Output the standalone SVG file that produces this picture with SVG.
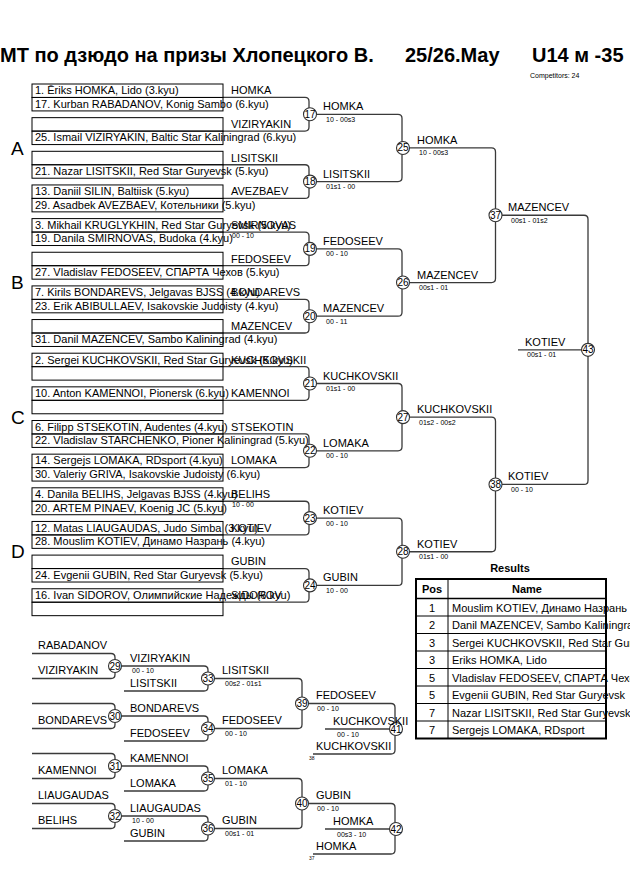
<svg xmlns="http://www.w3.org/2000/svg" width="630" height="891" viewBox="0 0 630 891">
<style>
text{font-family:"Liberation Sans",Arial,sans-serif;fill:#000}
.bx{fill:none;stroke:#000;stroke-width:1}
.ln{fill:none;stroke:#3a3a3a;stroke-width:1.3}
.c{fill:#fff;stroke:#333;stroke-width:1.1}
.t{font-size:11px}
.s{font-size:7px}
.n{font-size:10px;text-anchor:middle}
.tiny{font-size:5px}
.pool{font-size:19px}
.ttl{font-size:20px;font-weight:bold}
.b{font-weight:bold}
.mid{text-anchor:middle}
</style>
<rect width="630" height="891" fill="#fff"/>
<g id="title">
<text class="ttl" x="0" y="62">МТ по дзюдо на призы Хлопецкого В.</text>
<text class="ttl" x="405" y="62">25/26.May</text>
<text class="ttl" x="532" y="62">U14 м -35</text>
<text class="s" x="530" y="78">Competitors: 24</text>
</g>
<g id="pools">
<text class="pool" x="11" y="155">A</text>
<text class="pool" x="11" y="289">B</text>
<text class="pool" x="11" y="424">C</text>
<text class="pool" x="11" y="558">D</text>
</g>
<g id="connectors">
<path class="ln" d="M223 97.46H305Q309 97.46 309 101.46V127.11Q309 131.11 305 131.11H223"/>
<path class="ln" d="M223 164.76H305Q309 164.76 309 168.76V194.41Q309 198.41 305 198.41H223"/>
<path class="ln" d="M223 232.06H305Q309 232.06 309 236.06V261.71Q309 265.71 305 265.71H223"/>
<path class="ln" d="M223 299.36H305Q309 299.36 309 303.36V329.01Q309 333.01 305 333.01H223"/>
<path class="ln" d="M223 366.66H305Q309 366.66 309 370.66V396.31Q309 400.31 305 400.31H223"/>
<path class="ln" d="M223 433.96H305Q309 433.96 309 437.96V463.61Q309 467.61 305 467.61H223"/>
<path class="ln" d="M223 501.26H305Q309 501.26 309 505.26V530.91Q309 534.91 305 534.91H223"/>
<path class="ln" d="M223 568.56H305Q309 568.56 309 572.56V598.21Q309 602.21 305 602.21H223"/>
<path class="ln" d="M310 114.29H398Q402 114.29 402 118.29V177.59Q402 181.59 398 181.59H310"/>
<path class="ln" d="M310 248.89H398Q402 248.89 402 252.89V312.19Q402 316.19 398 316.19H310"/>
<path class="ln" d="M310 383.49H398Q402 383.49 402 387.49V446.79Q402 450.79 398 450.79H310"/>
<path class="ln" d="M310 518.09H398Q402 518.09 402 522.09V581.39Q402 585.39 398 585.39H310"/>
<path class="ln" d="M403 147.94H491.5Q495.5 147.94 495.5 151.94V278.54Q495.5 282.54 491.5 282.54H403"/>
<path class="ln" d="M403 417.14H491.5Q495.5 417.14 495.5 421.14V547.74Q495.5 551.74 491.5 551.74H403"/>
<path class="ln" d="M495.5 215.24H584Q588 215.24 588 219.24V480.44Q588 484.44 584 484.44H495.5"/>
<path class="ln" d="M518 349.84H588"/>
<path class="ln" d="M32 653.5H111Q115 653.5 115 657.5V674.5Q115 678.5 111 678.5H32"/>
<path class="ln" d="M32 703.5H111Q115 703.5 115 707.5V724.5Q115 728.5 111 728.5H32"/>
<path class="ln" d="M32 753.5H111Q115 753.5 115 757.5V774.5Q115 778.5 111 778.5H32"/>
<path class="ln" d="M32 803.5H111Q115 803.5 115 807.5V824.5Q115 828.5 111 828.5H32"/>
<path class="ln" d="M115 666H204Q208 666 208 670V687Q208 691 204 691H124"/>
<path class="ln" d="M115 716H204Q208 716 208 720V737Q208 741 204 741H124"/>
<path class="ln" d="M115 766H204Q208 766 208 770V787Q208 791 204 791H124"/>
<path class="ln" d="M115 816H204Q208 816 208 820V837Q208 841 204 841H124"/>
<path class="ln" d="M208 678.5H298Q302 678.5 302 682.5V724.5Q302 728.5 298 728.5H208"/>
<path class="ln" d="M208 778.5H298Q302 778.5 302 782.5V824.5Q302 828.5 298 828.5H208"/>
<path class="ln" d="M302 703.5H391Q395 703.5 395 707.5V750Q395 754 391 754H313"/>
<path class="ln" d="M302 803.5H391Q395 803.5 395 807.5V850Q395 854 391 854H313"/>
<path class="ln" d="M325 729H396"/>
<path class="ln" d="M325 829H396"/>
</g>
<g id="p0"><rect class="bx" x="32" y="84" width="191" height="13.46"/><rect class="bx" x="32" y="97.46" width="191" height="13.46"/>
<text class="t" x="35" y="94.3">1. Ēriks HOMKA, Lido (3.kyu)</text><text class="t" x="35" y="107.8">17. Kurban RABADANOV, Konig Sambo (6.kyu)</text><text class="t" x="231" y="94.3">HOMKA</text></g>
<g id="p1"><rect class="bx" x="32" y="117.65" width="191" height="13.46"/><rect class="bx" x="32" y="131.11" width="191" height="13.46"/>
<text class="t" x="35" y="141.45">25. Ismail VIZIRYAKIN, Baltic Star Kaliningrad (6.kyu)</text><text class="t" x="231" y="127.95">VIZIRYAKIN</text></g>
<g id="p2"><rect class="bx" x="32" y="151.3" width="191" height="13.46"/><rect class="bx" x="32" y="164.76" width="191" height="13.46"/>
<text class="t" x="35" y="175.1">21. Nazar LISITSKII, Red Star Guryevsk (5.kyu)</text><text class="t" x="231" y="161.6">LISITSKII</text></g>
<g id="p3"><rect class="bx" x="32" y="184.95" width="191" height="13.46"/><rect class="bx" x="32" y="198.41" width="191" height="13.46"/>
<text class="t" x="35" y="195.25">13. Daniil SILIN, Baltiisk (5.kyu)</text><text class="t" x="35" y="208.75">29. Asadbek AVEZBAEV, Котельники (5.kyu)</text><text class="t" x="231" y="195.25">AVEZBAEV</text></g>
<g id="p4"><rect class="bx" x="32" y="218.6" width="191" height="13.46"/><rect class="bx" x="32" y="232.06" width="191" height="13.46"/>
<text class="t" x="35" y="228.9">3. Mikhail KRUGLYKHIN, Red Star Guryevsk (5.kyu)</text><text class="t" x="35" y="242.4">19. Danila SMIRNOVAS, Budoka (4.kyu)</text><text class="t" x="231" y="228.9">SMIRNOVAS</text><text class="s" x="232" y="238.1">00 - 10</text></g>
<g id="p5"><rect class="bx" x="32" y="252.25" width="191" height="13.46"/><rect class="bx" x="32" y="265.71" width="191" height="13.46"/>
<text class="t" x="35" y="276.05">27. Vladislav FEDOSEEV, СПАРТА Чехов (5.kyu)</text><text class="t" x="231" y="262.55">FEDOSEEV</text></g>
<g id="p6"><rect class="bx" x="32" y="285.9" width="191" height="13.46"/><rect class="bx" x="32" y="299.36" width="191" height="13.46"/>
<text class="t" x="35" y="296.2">7. Kirils BONDAREVS, Jelgavas BJSS (4.kyu)</text><text class="t" x="35" y="309.7">23. Erik ABIBULLAEV, Isakovskie Judoisty (4.kyu)</text><text class="t" x="231" y="296.2">BONDAREVS</text></g>
<g id="p7"><rect class="bx" x="32" y="319.55" width="191" height="13.46"/><rect class="bx" x="32" y="333.01" width="191" height="13.46"/>
<text class="t" x="35" y="343.35">31. Danil MAZENCEV, Sambo Kaliningrad (4.kyu)</text><text class="t" x="231" y="329.85">MAZENCEV</text></g>
<g id="p8"><rect class="bx" x="32" y="353.2" width="191" height="13.46"/><rect class="bx" x="32" y="366.66" width="191" height="13.46"/>
<text class="t" x="35" y="363.5">2. Sergei KUCHKOVSKII, Red Star Guryevsk (5.kyu)</text><text class="t" x="231" y="363.5">KUCHKOVSKII</text></g>
<g id="p9"><rect class="bx" x="32" y="386.85" width="191" height="13.46"/><rect class="bx" x="32" y="400.31" width="191" height="13.46"/>
<text class="t" x="35" y="397.15">10. Anton KAMENNOI, Pionersk (6.kyu)</text><text class="t" x="231" y="397.15">KAMENNOI</text></g>
<g id="p10"><rect class="bx" x="32" y="420.5" width="191" height="13.46"/><rect class="bx" x="32" y="433.96" width="191" height="13.46"/>
<text class="t" x="35" y="430.8">6. Filipp STSEKOTIN, Audentes (4.kyu)</text><text class="t" x="35" y="444.3">22. Vladislav STARCHENKO, Pioner Kaliningrad (5.kyu)</text><text class="t" x="231" y="430.8">STSEKOTIN</text></g>
<g id="p11"><rect class="bx" x="32" y="454.15" width="191" height="13.46"/><rect class="bx" x="32" y="467.61" width="191" height="13.46"/>
<text class="t" x="35" y="464.45">14. Sergejs LOMAKA, RDsport (4.kyu)</text><text class="t" x="35" y="477.95">30. Valeriy GRIVA, Isakovskie Judoisty (6.kyu)</text><text class="t" x="231" y="464.45">LOMAKA</text></g>
<g id="p12"><rect class="bx" x="32" y="487.8" width="191" height="13.46"/><rect class="bx" x="32" y="501.26" width="191" height="13.46"/>
<text class="t" x="35" y="498.1">4. Danila BELIHS, Jelgavas BJSS (4.kyu)</text><text class="t" x="35" y="511.6">20. ARTEM PINAEV, Koenig JC (5.kyu)</text><text class="t" x="231" y="498.1">BELIHS</text><text class="s" x="232" y="507.3">10 - 00</text></g>
<g id="p13"><rect class="bx" x="32" y="521.45" width="191" height="13.46"/><rect class="bx" x="32" y="534.91" width="191" height="13.46"/>
<text class="t" x="35" y="531.75">12. Matas LIAUGAUDAS, Judo Simba (3.kyu)</text><text class="t" x="35" y="545.25">28. Mouslim KOTIEV, Динамо Назрань (4.kyu)</text><text class="t" x="231" y="531.75">KOTIEV</text></g>
<g id="p14"><rect class="bx" x="32" y="555.1" width="191" height="13.46"/><rect class="bx" x="32" y="568.56" width="191" height="13.46"/>
<text class="t" x="35" y="578.9">24. Evgenii GUBIN, Red Star Guryevsk (5.kyu)</text><text class="t" x="231" y="565.4">GUBIN</text></g>
<g id="p15"><rect class="bx" x="32" y="588.75" width="191" height="13.46"/><rect class="bx" x="32" y="602.21" width="191" height="13.46"/>
<text class="t" x="35" y="599.05">16. Ivan SIDOROV, Олимпийские Надежды (6.kyu)</text><text class="t" x="231" y="599.05">SIDOROV</text></g>
<g id="m17"><circle class="c" cx="310" cy="114.29" r="6.5"/><text class="n" x="310" y="117.8">17</text><text class="t" x="323" y="110.3">HOMKA</text><text class="s" x="326" y="121.8">10 - 00s3</text></g>
<g id="m18"><circle class="c" cx="310" cy="181.59" r="6.5"/><text class="n" x="310" y="185.1">18</text><text class="t" x="323" y="177.6">LISITSKII</text><text class="s" x="326" y="189.1">01s1 - 00</text></g>
<g id="m19"><circle class="c" cx="310" cy="248.89" r="6.5"/><text class="n" x="310" y="252.4">19</text><text class="t" x="323" y="244.9">FEDOSEEV</text><text class="s" x="326" y="256.4">00 - 10</text></g>
<g id="m20"><circle class="c" cx="310" cy="316.19" r="6.5"/><text class="n" x="310" y="319.7">20</text><text class="t" x="323" y="312.2">MAZENCEV</text><text class="s" x="326" y="323.7">00 - 11</text></g>
<g id="m21"><circle class="c" cx="310" cy="383.49" r="6.5"/><text class="n" x="310" y="387">21</text><text class="t" x="323" y="379.5">KUCHKOVSKII</text><text class="s" x="326" y="391">01s1 - 00</text></g>
<g id="m22"><circle class="c" cx="310" cy="450.79" r="6.5"/><text class="n" x="310" y="454.3">22</text><text class="t" x="323" y="446.8">LOMAKA</text><text class="s" x="326" y="458.3">00 - 10</text></g>
<g id="m23"><circle class="c" cx="310" cy="518.09" r="6.5"/><text class="n" x="310" y="521.6">23</text><text class="t" x="323" y="514.1">KOTIEV</text><text class="s" x="326" y="525.6">00 - 10</text></g>
<g id="m24"><circle class="c" cx="310" cy="585.39" r="6.5"/><text class="n" x="310" y="588.9">24</text><text class="t" x="323" y="581.4">GUBIN</text><text class="s" x="326" y="592.9">10 - 00</text></g>
<g id="m25"><circle class="c" cx="403" cy="147.94" r="6.5"/><text class="n" x="403" y="151.4">25</text><text class="t" x="417" y="143.9">HOMKA</text><text class="s" x="419" y="155.4">10 - 00s3</text></g>
<g id="m26"><circle class="c" cx="403" cy="282.54" r="6.5"/><text class="n" x="403" y="286">26</text><text class="t" x="417" y="278.5">MAZENCEV</text><text class="s" x="419" y="290">00s1 - 01</text></g>
<g id="m27"><circle class="c" cx="403" cy="417.14" r="6.5"/><text class="n" x="403" y="420.6">27</text><text class="t" x="417" y="413.1">KUCHKOVSKII</text><text class="s" x="419" y="424.6">01s2 - 00s2</text></g>
<g id="m28"><circle class="c" cx="403" cy="551.74" r="6.5"/><text class="n" x="403" y="555.2">28</text><text class="t" x="417" y="547.7">KOTIEV</text><text class="s" x="419" y="559.2">01s1 - 00</text></g>
<g id="m37"><circle class="c" cx="495.5" cy="215.24" r="6.5"/><text class="n" x="495.5" y="218.7">37</text><text class="t" x="508" y="211.2">MAZENCEV</text><text class="s" x="511" y="222.7">00s1 - 01s2</text></g>
<g id="m38"><circle class="c" cx="495.5" cy="484.44" r="6.5"/><text class="n" x="495.5" y="487.9">38</text><text class="t" x="508" y="480.4">KOTIEV</text><text class="s" x="511" y="491.9">00 - 10</text></g>
<g id="m43"><circle class="c" cx="588" cy="349.84" r="6.5"/><text class="n" x="588" y="353.3">43</text><text class="t" x="525" y="345.8">KOTIEV</text><text class="s" x="527" y="357.3">00s1 - 01</text></g>
<g id="rep-entrants">
<text class="t" x="38" y="649">RABADANOV</text>
<text class="t" x="38" y="674">VIZIRYAKIN</text>
<text class="t" x="38" y="724">BONDAREVS</text>
<text class="t" x="38" y="774">KAMENNOI</text>
<text class="t" x="38" y="799">LIAUGAUDAS</text>
<text class="t" x="38" y="824">BELIHS</text>
</g>
<g id="m29"><circle class="c" cx="115" cy="666" r="6.5"/><text class="n" x="115" y="669.5">29</text><text class="t" x="130" y="661.5">VIZIRYAKIN</text><text class="s" x="132" y="673">00 - 10</text></g>
<g id="m30"><circle class="c" cx="115" cy="716" r="6.5"/><text class="n" x="115" y="719.5">30</text><text class="t" x="130" y="711.5">BONDAREVS</text></g>
<g id="m31"><circle class="c" cx="115" cy="766" r="6.5"/><text class="n" x="115" y="769.5">31</text><text class="t" x="130" y="761.5">KAMENNOI</text></g>
<g id="m32"><circle class="c" cx="115" cy="816" r="6.5"/><text class="n" x="115" y="819.5">32</text><text class="t" x="130" y="811.5">LIAUGAUDAS</text><text class="s" x="132" y="823">10 - 00</text></g>
<g id="rep-col2">
<text class="t" x="130" y="686.5">LISITSKII</text>
<text class="t" x="130" y="736.5">FEDOSEEV</text>
<text class="t" x="130" y="786.5">LOMAKA</text>
<text class="t" x="130" y="836.5">GUBIN</text>
</g>
<g id="m33"><circle class="c" cx="208" cy="678.5" r="6.5"/><text class="n" x="208" y="682">33</text><text class="t" x="222" y="674">LISITSKII</text><text class="s" x="225" y="686">00s2 - 01s1</text></g>
<g id="m34"><circle class="c" cx="208" cy="728.5" r="6.5"/><text class="n" x="208" y="732">34</text><text class="t" x="222" y="724">FEDOSEEV</text><text class="s" x="225" y="736">00 - 10</text></g>
<g id="m35"><circle class="c" cx="208" cy="778.5" r="6.5"/><text class="n" x="208" y="782">35</text><text class="t" x="222" y="774">LOMAKA</text><text class="s" x="225" y="786">01 - 10</text></g>
<g id="m36"><circle class="c" cx="208" cy="828.5" r="6.5"/><text class="n" x="208" y="832">36</text><text class="t" x="222" y="824">GUBIN</text><text class="s" x="225" y="836">00s1 - 01</text></g>
<g id="m39"><circle class="c" cx="302" cy="703.5" r="6.5"/><text class="n" x="302" y="707">39</text><text class="t" x="316" y="699">FEDOSEEV</text><text class="s" x="317" y="711">00 - 10</text></g>
<g id="m40"><circle class="c" cx="302" cy="803.5" r="6.5"/><text class="n" x="302" y="807">40</text><text class="t" x="316" y="799">GUBIN</text><text class="s" x="317" y="811">00 - 10</text></g>
<g id="m41"><circle class="c" cx="396" cy="729" r="6.5"/><text class="n" x="396" y="732.5">41</text><text class="t" x="333" y="724.5">KUCHKOVSKII</text><text class="s" x="337" y="736.5">00 - 10</text><text class="t" x="316" y="749.5">KUCHKOVSKII</text><text class="tiny" x="309" y="760">38</text></g>
<g id="m42"><circle class="c" cx="396" cy="829" r="6.5"/><text class="n" x="396" y="832.5">42</text><text class="t" x="333" y="824.5">HOMKA</text><text class="s" x="337" y="836.5">00s3 - 10</text><text class="t" x="316" y="849.5">HOMKA</text><text class="tiny" x="309" y="860">37</text></g>
<g id="results">
<text class="t b mid" x="510" y="572">Results</text>
<rect x="416" y="579" width="190" height="159.5" fill="none" stroke="#000" stroke-width="2"/>
<line x1="416" y1="598.5" x2="606" y2="598.5" stroke="#000" stroke-width="1.5"/>
<line x1="448" y1="579" x2="448" y2="738.5" stroke="#000" stroke-width="1"/>
<g stroke="#000" stroke-width="1">
<line x1="416" y1="616" x2="606" y2="616"/><line x1="416" y1="633.5" x2="606" y2="633.5"/><line x1="416" y1="651" x2="606" y2="651"/><line x1="416" y1="668.5" x2="606" y2="668.5"/><line x1="416" y1="686" x2="606" y2="686"/><line x1="416" y1="703.5" x2="606" y2="703.5"/><line x1="416" y1="721" x2="606" y2="721"/>
</g>
<text class="t b mid" x="432" y="592.5">Pos</text><text class="t b mid" x="527" y="592.5">Name</text>
<text class="t mid" x="432" y="611.5">1</text><text class="t" x="452" y="611.5">Mouslim KOTIEV, Динамо Назрань</text>
<text class="t mid" x="432" y="629">2</text><text class="t" x="452" y="629">Danil MAZENCEV, Sambo Kaliningrad</text>
<text class="t mid" x="432" y="646.5">3</text><text class="t" x="452" y="646.5">Sergei KUCHKOVSKII, Red Star Guryevsk</text>
<text class="t mid" x="432" y="664">3</text><text class="t" x="452" y="664">Eriks HOMKA, Lido</text>
<text class="t mid" x="432" y="681.5">5</text><text class="t" x="452" y="681.5">Vladislav FEDOSEEV, СПАРТА Чехов</text>
<text class="t mid" x="432" y="699">5</text><text class="t" x="452" y="699">Evgenii GUBIN, Red Star Guryevsk</text>
<text class="t mid" x="432" y="716.5">7</text><text class="t" x="452" y="716.5">Nazar LISITSKII, Red Star Guryevsk</text>
<text class="t mid" x="432" y="734">7</text><text class="t" x="452" y="734">Sergejs LOMAKA, RDsport</text>
</g>
</svg>
